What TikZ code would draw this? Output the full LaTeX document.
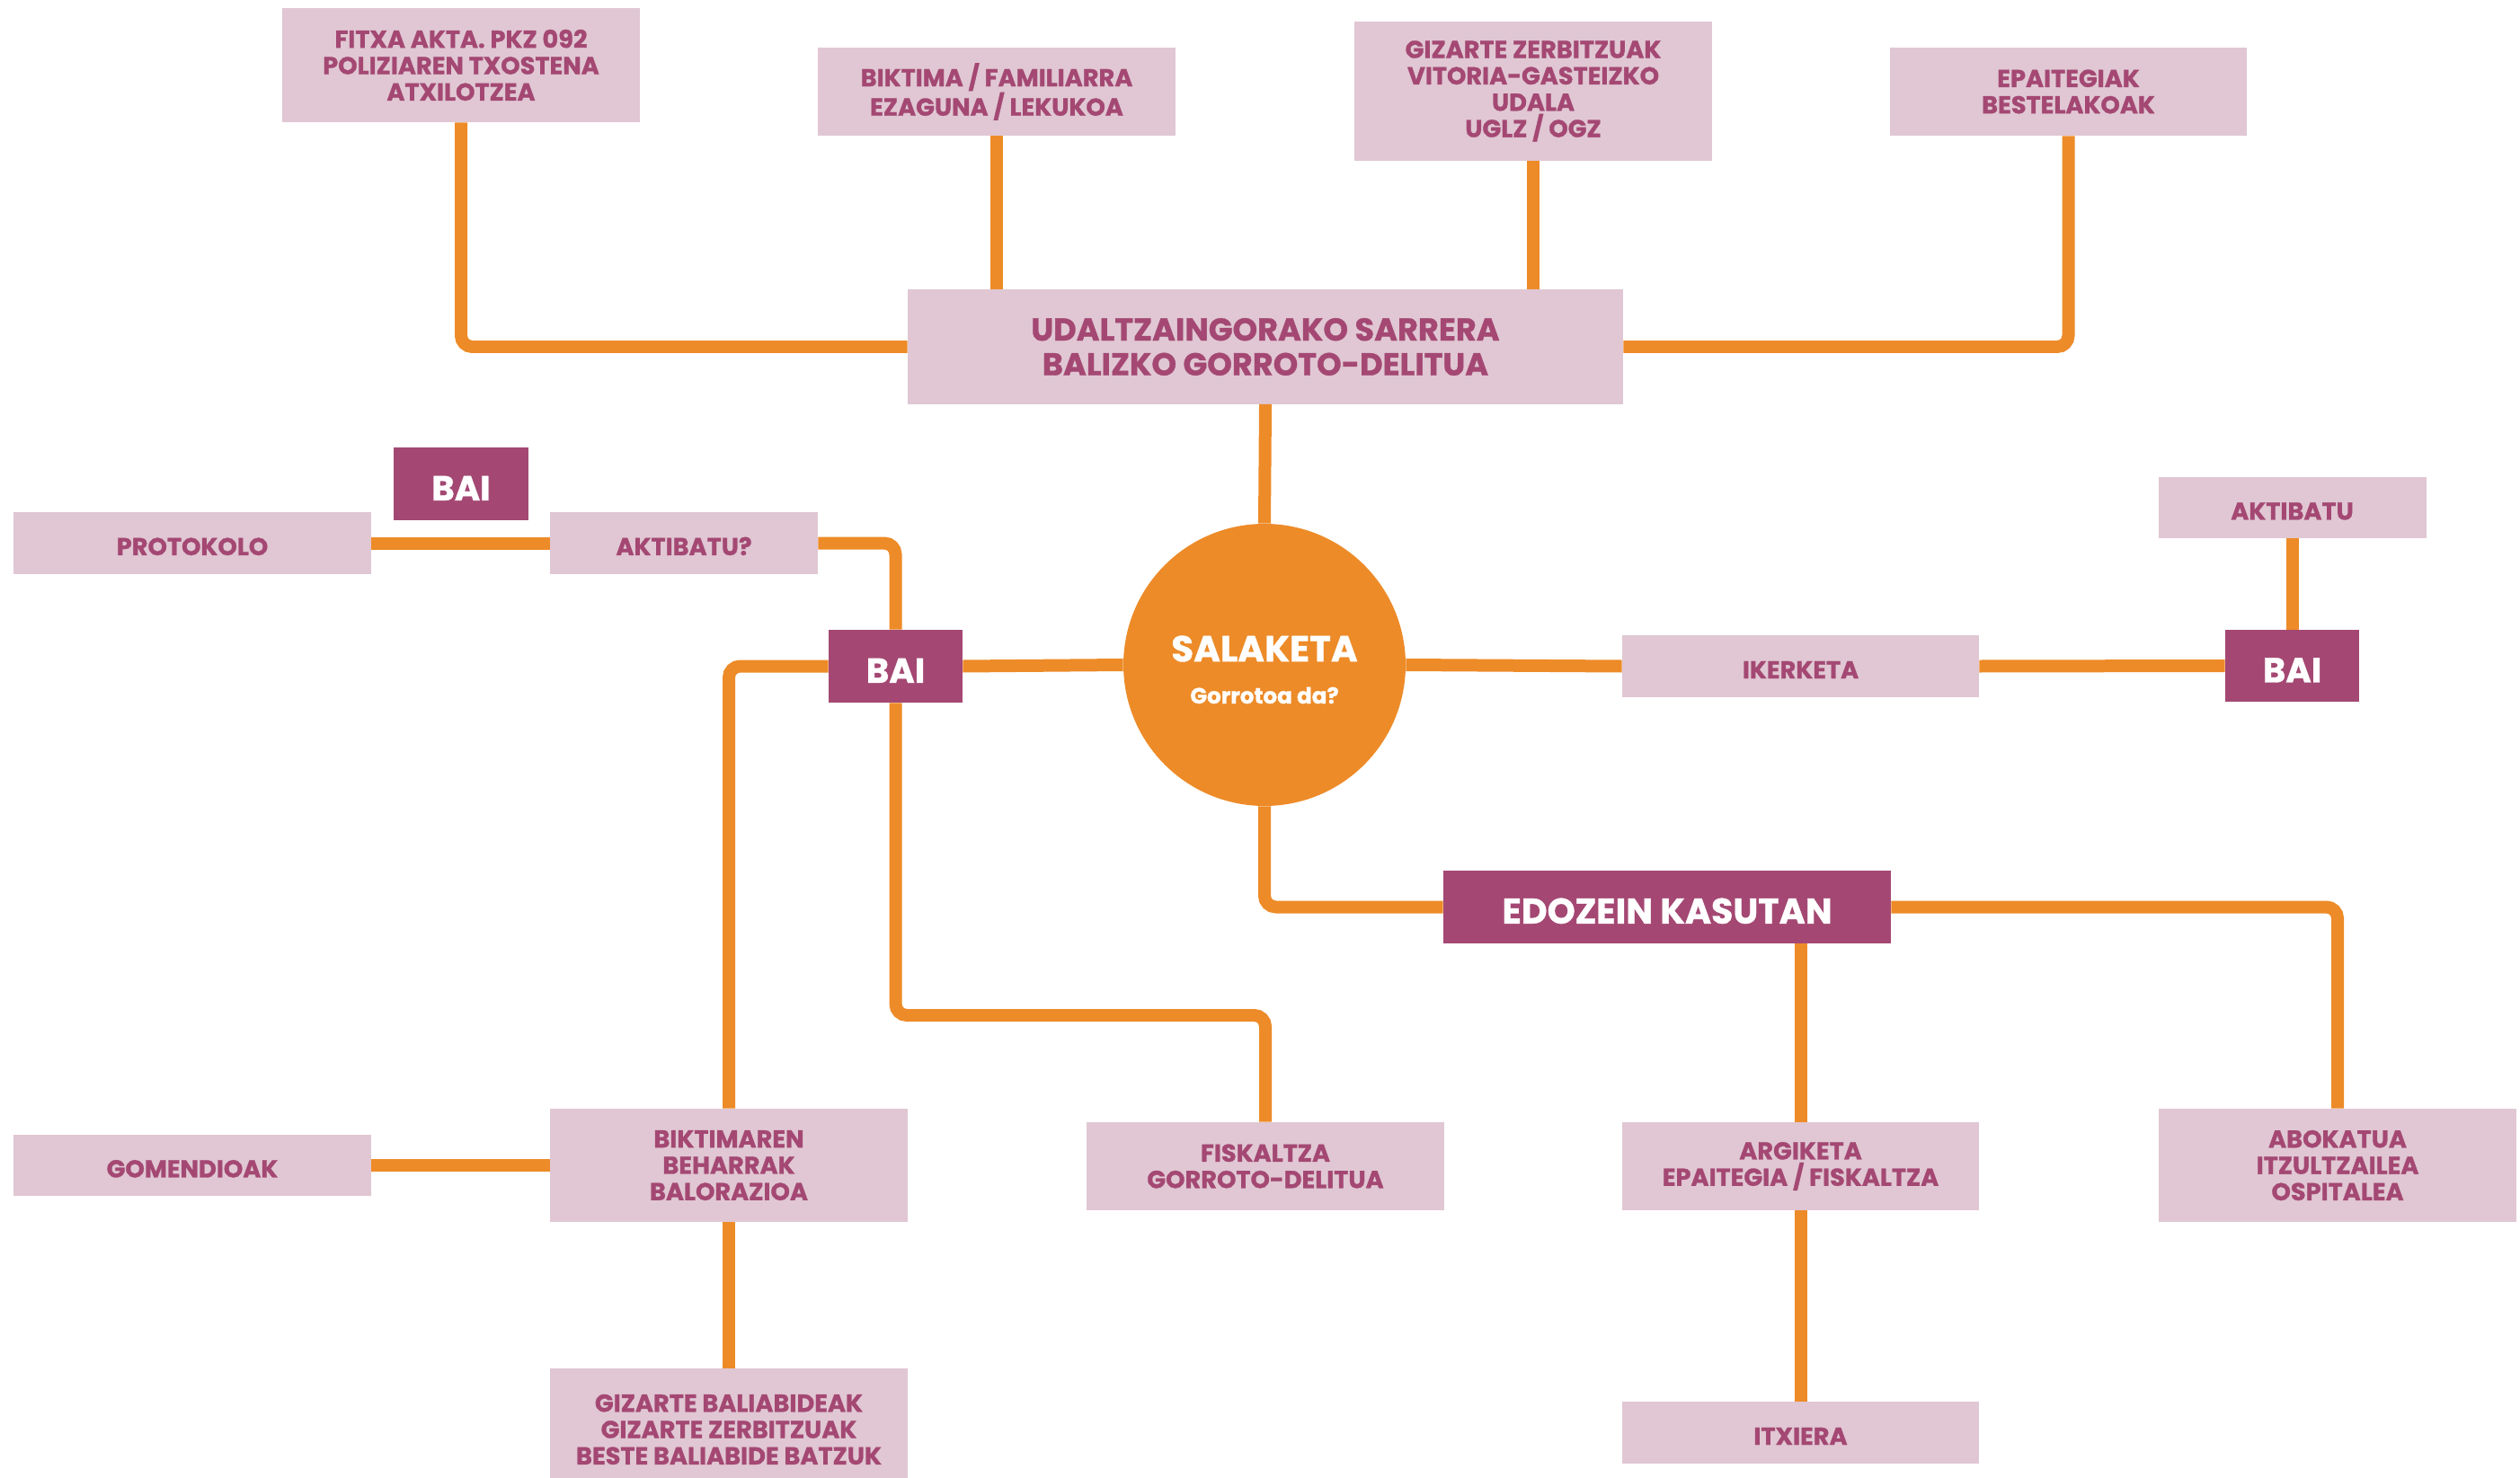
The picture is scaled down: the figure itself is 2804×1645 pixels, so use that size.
\documentclass[tikz,border=0pt]{standalone}
\usepackage{fontspec}
\setmainfont{Poppins}[BoldFeatures={FakeBold=1}]
\usetikzlibrary{positioning,calc}
\definecolor{boxpink}{RGB}{224,199,211}
\definecolor{plum}{RGB}{164,72,115}
\definecolor{tangerine}{RGB}{237,139,40}

\begin{document}
\begin{tikzpicture}[x=0.02cm,y=-0.02cm,
  sz/.style 2 args={minimum width=#1*0.02cm,minimum height=#2*0.02cm},
  lift/.style={execute at begin node={\rule{0pt}{#1}}},
  box/.style={fill=boxpink,text=plum,inner sep=0pt,align=center,lift=15.4pt,
     font=\fontsize{15.5}{16.7}\selectfont\bfseries},
  bigbox/.style={box,lift=18pt,font=\fontsize{20}{22}\selectfont\bfseries},
  dark/.style={fill=plum,text=white,inner sep=0pt,align=center,lift=21pt,
     font=\fontsize{22}{24}\selectfont\bfseries},
  conn/.style={draw=tangerine,line width=0.28cm,rounded corners=0.25cm}]

\useasboundingbox (0,0) rectangle (2804,1645);
\clip (0,0) rectangle (2804,1645);

\node[box,sz={398}{127}] (fitxa)      at ( 513, 72.5) {FITXA AKTA. PKZ 092\\POLIZIAREN TXOSTENA\\ATXILOTZEA};
\node[box,sz={398}{98}]  (biktima)    at (1109,102)   {BIKTIMA / FAMILIARRA\\EZAGUNA / LEKUKOA};
\node[box,sz={398}{155}] (gizarte)    at (1706,101.5) {GIZARTE ZERBITZUAK\\VITORIA-GASTEIZKO\\UDALA\\UGLZ / OGZ};
\node[box,sz={397}{98}]  (epaitegiak) at (2301.5,102) {EPAITEGIAK\\BESTELAKOAK};
\node[bigbox,sz={796}{127}] (sarrera) at (1408,386) {UDALTZAINGORAKO SARRERA\\BALIZKO GORROTO-DELITUA};

\node[box,sz={398}{69}]  (protokolo)  at ( 214,604.5) {PROTOKOLO};
\node[dark,sz={150}{81}] (baitop)     at ( 513,538.5) {BAI};
\node[box,sz={298}{69}]  (aktibatuq)  at ( 761,604.5) {AKTIBATU?};
\node[dark,sz={149}{81}] (baileft)    at ( 996.5,741.5) {BAI};

\node[circle,fill=tangerine,inner sep=0pt,minimum size=314*0.02cm] (salaketa) at (1407,740) {};
\node[text=white,font=\fontsize{23}{24}\selectfont\bfseries] (salaketatxt) at (1407,722) {SALAKETA};
\node[text=white,font=\fontsize{14}{16}\selectfont\bfseries] (gorrotoa) at (1407,774) {Gorrotoa da?};

\node[box,sz={397}{69}]  (ikerketa)   at (2003.5,741.5) {IKERKETA};
\node[dark,sz={149}{80}] (bairight)   at (2550.5,741) {BAI};
\node[box,sz={298}{68}]  (aktibatu)   at (2550.5,565) {AKTIBATU};

\node[dark,sz={498}{81},lift=19.7pt,font=\fontsize{22.5}{24}\selectfont\bfseries] (edozein) at (1855,1009.5) {EDOZEIN KASUTAN};

\node[box,sz={398}{68}]  (gomendioak) at ( 214,1297) {GOMENDIOAK};
\node[box,sz={398}{126}] (beharrak)   at ( 811,1297) {BIKTIMAREN\\BEHARRAK\\BALORAZIOA};
\node[box,sz={398}{98}]  (fiskaltza)  at (1408,1298) {FISKALTZA\\GORROTO-DELITUA};
\node[box,sz={397}{98}]  (argiketa)   at (2003.5,1298) {ARGIKETA\\EPAITEGIA / FISKALTZA};
\node[box,sz={398}{126}] (abokatua)   at (2601,1297) {ABOKATUA\\ITZULTZAILEA\\OSPITALEA};
\node[box,sz={398}{136}] (baliabideak) at ( 811,1591) {GIZARTE BALIABIDEAK\\GIZARTE ZERBITZUAK\\BESTE BALIABIDE BATZUK};
\node[box,sz={397}{69}]  (itxiera)    at (2003.5,1594.5) {ITXIERA};

\coordinate (fbend) at (1200,1130);

\foreach \a/\b in {sarrera.south/salaketa.north, protokolo.east/aktibatuq.west,
   baileft.east/salaketa.west, salaketa.east/ikerketa.west, ikerketa.east/bairight.west,
   bairight.north/aktibatu.south, argiketa.south/itxiera.north,
   gomendioak.east/beharrak.west, beharrak.south/baliabideak.north}
  {\draw[conn] (\a) -- (\b);}

\draw[conn] (fitxa.south) |- (sarrera.west);
\draw[conn] (epaitegiak.south) |- (sarrera.east);
\draw[conn] (biktima.south) -- (biktima.south |- sarrera.north);
\draw[conn] (gizarte.south) -- (gizarte.south |- sarrera.north);
\draw[conn] (aktibatuq.east) -| (baileft.north);
\draw[conn] (baileft.west) -| (beharrak.north);
\draw[conn] (baileft.south) |- (fbend) -| (fiskaltza.north);
\draw[conn] (salaketa.south) |- (edozein.west);
\draw[conn] (edozein.east) -| (abokatua.north);
\draw[conn] (argiketa.north |- edozein.south) -- (argiketa.north);

\end{tikzpicture}
\end{document}
